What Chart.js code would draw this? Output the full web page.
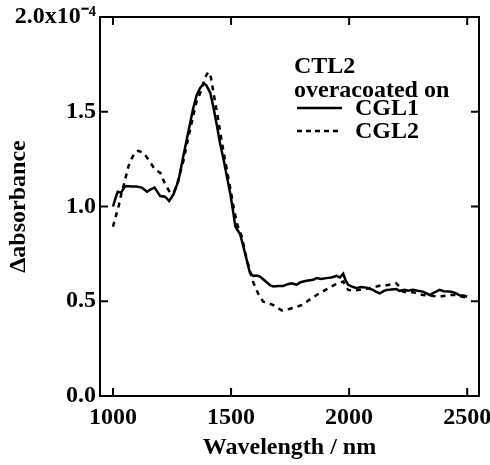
<!DOCTYPE html>
<html>
<head>
<meta charset="utf-8">
<script src="https://cdn.jsdelivr.net/npm/chart.js@4/dist/chart.umd.min.js"></script>
<style>
  html, body { margin: 0; padding: 0; background: #fff; }
  #wrap { width: 490px; height: 465px; }
</style>
</head>
<body>
<div id="wrap"><canvas id="absChart" width="490" height="465"></canvas></div>
<script>
// wavelength (nm) and delta absorbance (x1e-4)
const cgl1Wave = [1000, 1012, 1020, 1034, 1052, 1080, 1100, 1122, 1144, 1160, 1176, 1200, 1221, 1238, 1256, 1277, 1297, 1320, 1340, 1355, 1369, 1383, 1395, 1412, 1426, 1440, 1454, 1468, 1482, 1496, 1508, 1518, 1530, 1538, 1552, 1566, 1580, 1594, 1610, 1623, 1637, 1651, 1665, 1679, 1700, 1721, 1740, 1757, 1778, 1792, 1806, 1820, 1848, 1862, 1880, 1904, 1925, 1947, 1961, 1975, 1985, 1996, 2010, 2031, 2050, 2073, 2087, 2101, 2115, 2130, 2144, 2158, 2180, 2200, 2214, 2235, 2250, 2270, 2290, 2313, 2330, 2341, 2360, 2383, 2400, 2426, 2440, 2453, 2470, 2485, 2500];
const cgl1Abs = [1.00, 1.05, 1.078, 1.073, 1.108, 1.105, 1.105, 1.10, 1.078, 1.09, 1.10, 1.055, 1.052, 1.029, 1.064, 1.135, 1.26, 1.40, 1.52, 1.59, 1.625, 1.648, 1.64, 1.60, 1.52, 1.427, 1.33, 1.25, 1.16, 1.073, 0.98, 0.896, 0.87, 0.855, 0.79, 0.719, 0.649, 0.634, 0.636, 0.630, 0.615, 0.600, 0.585, 0.578, 0.580, 0.581, 0.590, 0.595, 0.587, 0.599, 0.604, 0.608, 0.613, 0.622, 0.617, 0.622, 0.625, 0.634, 0.625, 0.645, 0.61, 0.587, 0.578, 0.569, 0.575, 0.572, 0.566, 0.56, 0.55, 0.542, 0.552, 0.56, 0.562, 0.564, 0.555, 0.56, 0.555, 0.56, 0.555, 0.551, 0.54, 0.533, 0.545, 0.56, 0.553, 0.551, 0.548, 0.542, 0.53, 0.53, 0.524];

const cgl2Wave = [1000, 1012, 1024, 1036, 1048, 1066, 1080, 1094, 1108, 1129, 1143, 1158, 1179, 1200, 1210, 1221, 1242, 1256, 1270, 1285, 1300, 1320, 1340, 1355, 1370, 1385, 1396, 1404, 1415, 1425, 1440, 1454, 1468, 1482, 1496, 1510, 1525, 1545, 1560, 1580, 1594, 1615, 1636, 1657, 1679, 1696, 1714, 1735, 1757, 1778, 1799, 1820, 1841, 1862, 1876, 1900, 1920, 1939, 1960, 1975, 1985, 1996, 2020, 2045, 2070, 2095, 2116, 2140, 2160, 2180, 2200, 2214, 2228, 2250, 2270, 2290, 2313, 2340, 2360, 2383, 2410, 2430, 2453, 2475, 2496];
const cgl2Abs = [0.893, 0.95, 1.002, 1.07, 1.126, 1.214, 1.255, 1.286, 1.294, 1.282, 1.26, 1.232, 1.193, 1.179, 1.15, 1.117, 1.073, 1.07, 1.11, 1.18, 1.25, 1.37, 1.48, 1.56, 1.60, 1.66, 1.695, 1.71, 1.68, 1.604, 1.50, 1.392, 1.29, 1.197, 1.10, 1.002, 0.91, 0.843, 0.755, 0.660, 0.600, 0.54, 0.498, 0.49, 0.48, 0.466, 0.452, 0.455, 0.463, 0.47, 0.48, 0.497, 0.516, 0.533, 0.542, 0.56, 0.575, 0.587, 0.597, 0.604, 0.58, 0.56, 0.556, 0.56, 0.565, 0.572, 0.578, 0.585, 0.585, 0.59, 0.595, 0.575, 0.551, 0.545, 0.548, 0.54, 0.533, 0.53, 0.527, 0.524, 0.53, 0.533, 0.533, 0.525, 0.52];

const xTickValues = [1000, 1500, 2000, 2500];
const yTickValues = [0, 0.5, 1.0, 1.5, 2.0];
const yTopLabel = "2.0x10\u207B\u2074";
const legendTitle = ["CTL2", "overacoated on"];
const seriesNames = ["CGL1", "CGL2"];

const FONT = "'Liberation Serif', 'Times New Roman', serif";
const FSIZE = 24;

function toPoints(xs, ys) {
  return xs.map((x, i) => ({ x: x, y: ys[i] }));
}

// frame, inward ticks and the text legend
const framePlugin = {
  id: "frame",
  afterDraw(chart) {
    const ctx = chart.ctx;
    const a = chart.chartArea;
    const xs = chart.scales.x;
    const ys = chart.scales.y;
    ctx.save();
    ctx.strokeStyle = "#000";
    ctx.lineWidth = 2;
    ctx.strokeRect(a.left, a.top, a.right - a.left, a.bottom - a.top);

    const tl = 8;
    ctx.beginPath();
    xTickValues.forEach((v) => {
      const px = xs.getPixelForValue(v);
      ctx.moveTo(px, a.bottom);
      ctx.lineTo(px, a.bottom - tl);
      ctx.moveTo(px, a.top);
      ctx.lineTo(px, a.top + tl);
    });
    yTickValues.forEach((v) => {
      const py = ys.getPixelForValue(v);
      ctx.moveTo(a.left, py);
      ctx.lineTo(a.left + tl, py);
      ctx.moveTo(a.right, py);
      ctx.lineTo(a.right - tl, py);
    });
    ctx.stroke();

    // legend
    ctx.fillStyle = "#000";
    ctx.font = "bold " + FSIZE + "px " + FONT;
    ctx.textBaseline = "alphabetic";
    ctx.textAlign = "left";
    ctx.fillText(legendTitle[0], 294, 73);
    ctx.fillText(legendTitle[1], 294, 97);
    ctx.lineWidth = 2.5;
    ctx.beginPath();
    ctx.moveTo(297, 108);
    ctx.lineTo(342, 108);
    ctx.stroke();
    ctx.setLineDash([5, 4]);
    ctx.beginPath();
    ctx.moveTo(297, 131);
    ctx.lineTo(342, 131);
    ctx.stroke();
    ctx.setLineDash([]);
    ctx.fillText(seriesNames[0], 355, 115);
    ctx.fillText(seriesNames[1], 355, 138);
    ctx.restore();
  },
};

const canvas = document.getElementById("absChart");
const ctx = canvas.getContext("2d");

new Chart(ctx, {
  type: "scatter",
  data: {
    datasets: [
      {
        label: seriesNames[0],
        data: toPoints(cgl1Wave, cgl1Abs),
        showLine: true,
        borderColor: "#000",
        borderWidth: 2.5,
        pointRadius: 0,
        tension: 0,
      },
      {
        label: seriesNames[1],
        data: toPoints(cgl2Wave, cgl2Abs),
        showLine: true,
        borderColor: "#000",
        borderWidth: 2.5,
        borderDash: [5, 5],
        pointRadius: 0,
        tension: 0,
      },
    ],
  },
  options: {
    responsive: false,
    animation: false,
    layout: { padding: { top: 17, right: 11, left: 0, bottom: 0 } },
    plugins: {
      legend: { display: false },
      tooltip: { enabled: false },
    },
    scales: {
      x: {
        type: "linear",
        min: 945,
        max: 2550,
        afterBuildTicks: (scale) => {
          scale.ticks = xTickValues.map((v) => ({ value: v }));
        },
        afterFit: (scale) => {
          scale.height = 69;
          scale.paddingLeft = 0;
          scale.paddingRight = 0;
        },
        grid: { display: false, drawTicks: false },
        border: { display: false },
        ticks: {
          color: "#000",
          padding: 7,
          maxRotation: 0,
          font: { family: FONT, size: FSIZE, weight: "bold" },
          callback: (v) => String(v),
        },
        title: {
          display: true,
          text: "Wavelength / nm",
          color: "#000",
          padding: { top: 4, bottom: 3 },
          font: { family: FONT, size: FSIZE, weight: "bold" },
        },
      },
      y: {
        type: "linear",
        min: 0,
        max: 2.0,
        afterBuildTicks: (scale) => {
          scale.ticks = yTickValues.map((v) => ({ value: v }));
        },
        afterFit: (scale) => {
          scale.width = 100;
          scale.paddingTop = 0;
          scale.paddingBottom = 0;
        },
        grid: { display: false, drawTicks: false },
        border: { display: false },
        ticks: {
          color: "#000",
          padding: 4,
          font: { family: FONT, size: FSIZE, weight: "bold" },
          callback: (v) => (v === 2 ? yTopLabel : v.toFixed(1)),
        },
        title: {
          display: true,
          text: "\u0394absorbance",
          color: "#000",
          padding: { top: 4, bottom: 4 },
          font: { family: FONT, size: FSIZE, weight: "bold" },
        },
      },
    },
  },
  plugins: [framePlugin],
});
</script>
</body>
</html>
